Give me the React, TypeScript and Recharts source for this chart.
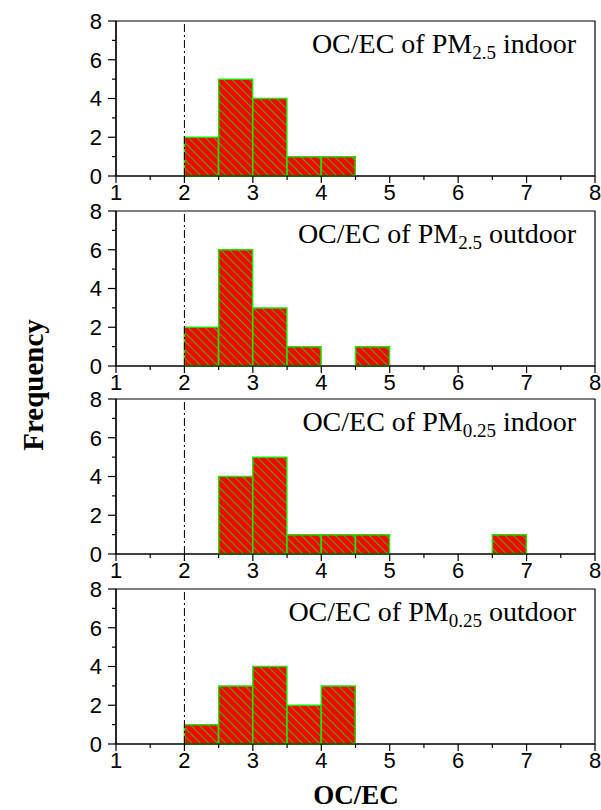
import React from 'react';
import { ComposedChart, XAxis, YAxis, Bar, ReferenceLine, ReferenceArea } from 'recharts';

// histogram bins, width 0.5, from 1 to 8
const binStarts = [1, 1.5, 2, 2.5, 3, 3.5, 4, 4.5, 5, 5.5, 6, 6.5, 7, 7.5];
const xTicks = [1, 1.5, 2, 2.5, 3, 3.5, 4, 4.5, 5, 5.5, 6, 6.5, 7, 7.5, 8];
const yTicks = [0, 1, 2, 3, 4, 5, 6, 7, 8];

const pm25Indoor = [0, 0, 2, 5, 4, 1, 1, 0, 0, 0, 0, 0, 0, 0];
const pm25Outdoor = [0, 0, 2, 6, 3, 1, 0, 1, 0, 0, 0, 0, 0, 0];
const pm025Indoor = [0, 0, 0, 4, 5, 1, 1, 1, 0, 0, 0, 1, 0, 0];
const pm025Outdoor = [0, 0, 1, 3, 4, 2, 3, 0, 0, 0, 0, 0, 0, 0];

const panels = [
  { id: 'p1', counts: pm25Indoor, size: '2.5', place: 'indoor', top: 21 },
  { id: 'p2', counts: pm25Outdoor, size: '2.5', place: 'outdoor', top: 211 },
  { id: 'p3', counts: pm025Indoor, size: '0.25', place: 'indoor', top: 399 },
  { id: 'p4', counts: pm025Outdoor, size: '0.25', place: 'outdoor', top: 589 },
];

const SANS = 'Liberation Sans, Arial, sans-serif';
const SERIF = 'Liberation Serif, Times New Roman, serif';
const CHART_W = 601;
const CHART_H = 210;
const M_TOP = 20;

const XTick = (props: any) => {
  const { x, y, payload } = props;
  const major = Number.isInteger(payload.value);
  return (
    <g>
      <line x1={x} y1={y} x2={x} y2={y + (major ? 7 : 4)} stroke="#000" strokeWidth={1.2} />
      {major && (
        <text x={x} y={y + 24} textAnchor="middle" fontSize={22} fontFamily={SANS} fill="#000">
          {payload.value}
        </text>
      )}
    </g>
  );
};

const YTick = (props: any) => {
  const { x, y, payload } = props;
  const major = payload.value % 2 === 0;
  return (
    <g>
      <line x1={x} y1={y} x2={x - (major ? 8 : 4)} y2={y} stroke="#000" strokeWidth={1.2} />
      {major && (
        <text x={x - 14} y={y} dy="0.36em" textAnchor="end" fontSize={22} fontFamily={SANS} fill="#000">
          {payload.value}
        </text>
      )}
    </g>
  );
};

const TopTick = (props: any) => {
  const { x, y } = props;
  return <line x1={x} y1={y} x2={x} y2={y - 3} stroke="#000" strokeWidth={1} />;
};

const RightTick = (props: any) => {
  const { x, y } = props;
  return <line x1={x} y1={y} x2={x + 3} y2={y} stroke="#000" strokeWidth={1} />;
};

const Panel = ({ id, counts, top }: { id: string; counts: number[]; top: number }) => {
  const data = binStarts.map((b, i) => ({ bin: String(b), mid: b + 0.25, count: counts[i] }));
  return (
    <div style={{ position: 'absolute', left: 0, top: top - M_TOP, width: CHART_W, height: CHART_H }}>
      <ComposedChart
        width={CHART_W}
        height={CHART_H}
        data={data}
        margin={{ top: M_TOP, right: 6, left: 86, bottom: 5 }}
        barCategoryGap={0}
        barGap={0}
      >
        <defs>
          <pattern id={`hatch-${id}`} patternUnits="userSpaceOnUse" width={6} height={6} patternTransform="rotate(-45)">
            <rect x={0} y={0} width={6} height={6} fill="#ff0000" />
            <line x1={0} y1={0} x2={0} y2={6} stroke="#00ee00" strokeWidth={1.6} />
          </pattern>
        </defs>
        <XAxis
          xAxisId="num"
          dataKey="mid"
          type="number"
          domain={[1, 8]}
          ticks={xTicks}
          interval={0}
          height={30}
          tickSize={0}
          tickMargin={0}
          tickLine={false}
          axisLine={{ stroke: '#000', strokeWidth: 1.2 }}
          tick={(p: any) => <XTick {...p} />}
          allowDataOverflow
        />
        <XAxis xAxisId="cat" dataKey="bin" type="category" hide height={0} />
        <XAxis
          xAxisId="top"
          orientation="top"
          dataKey="mid"
          type="number"
          domain={[1, 8]}
          ticks={xTicks}
          interval={0}
          height={0}
          tickSize={0}
          tickMargin={0}
          tickLine={false}
          axisLine={{ stroke: '#000', strokeWidth: 1.2 }}
          tick={(p: any) => <TopTick {...p} />}
          allowDataOverflow
        />
        <YAxis
          yAxisId="left"
          type="number"
          domain={[0, 8]}
          ticks={yTicks}
          interval={0}
          width={30}
          tickSize={0}
          tickMargin={0}
          tickLine={false}
          axisLine={{ stroke: '#000', strokeWidth: 1.2 }}
          tick={(p: any) => <YTick {...p} />}
        />
        <YAxis
          yAxisId="right"
          orientation="right"
          type="number"
          domain={[0, 8]}
          ticks={yTicks}
          interval={0}
          width={0}
          tickSize={0}
          tickMargin={0}
          tickLine={false}
          axisLine={{ stroke: '#000', strokeWidth: 1.2 }}
          tick={(p: any) => <RightTick {...p} />}
        />
        <ReferenceArea
          xAxisId="num"
          yAxisId="left"
          x1={1}
          x2={8}
          y1={0}
          y2={8}
          fill="none"
          fillOpacity={0}
          stroke="#000"
          strokeWidth={1.2}
          strokeOpacity={1}
        />
        <ReferenceLine
          xAxisId="num"
          yAxisId="left"
          x={2}
          stroke="#000"
          strokeWidth={1}
          strokeDasharray="8 3 2 3"
        />
        <Bar
          xAxisId="cat"
          yAxisId="left"
          dataKey="count"
          fill={`url(#hatch-${id})`}
          stroke="#22e000"
          strokeWidth={1.5}
          isAnimationActive={false}
        />
      </ComposedChart>
    </div>
  );
};

export default function App() {
  return (
    <div style={{ position: 'absolute', left: 0, top: 0, width: CHART_W, height: 810, background: '#fff' }}>
      {panels.map((p) => (
        <Panel key={p.id} id={p.id} counts={p.counts} top={p.top} />
      ))}
      <svg
        width={CHART_W}
        height={810}
        style={{ position: 'absolute', left: 0, top: 0, pointerEvents: 'none' }}
      >
        {panels.map((p) => (
          <text
            key={p.id}
            x={576}
            y={p.top + 32}
            textAnchor="end"
            fontSize={28}
            fontFamily={SERIF}
            fill="#000"
          >
            OC/EC of PM
            <tspan fontSize={19} dy={6}>{p.size}</tspan>
            <tspan dy={-6}> {p.place}</tspan>
          </text>
        ))}
        <text
          x={33}
          y={385}
          transform="rotate(-90 33 385)"
          textAnchor="middle"
          dominantBaseline="central"
          fontSize={29}
          fontWeight="bold"
          fontFamily={SERIF}
          fill="#000"
        >
          Frequency
        </text>
        <text x={356} y={804} textAnchor="middle" fontSize={27} fontWeight="bold" fontFamily={SERIF} fill="#000">
          OC/EC
        </text>
      </svg>
    </div>
  );
}
